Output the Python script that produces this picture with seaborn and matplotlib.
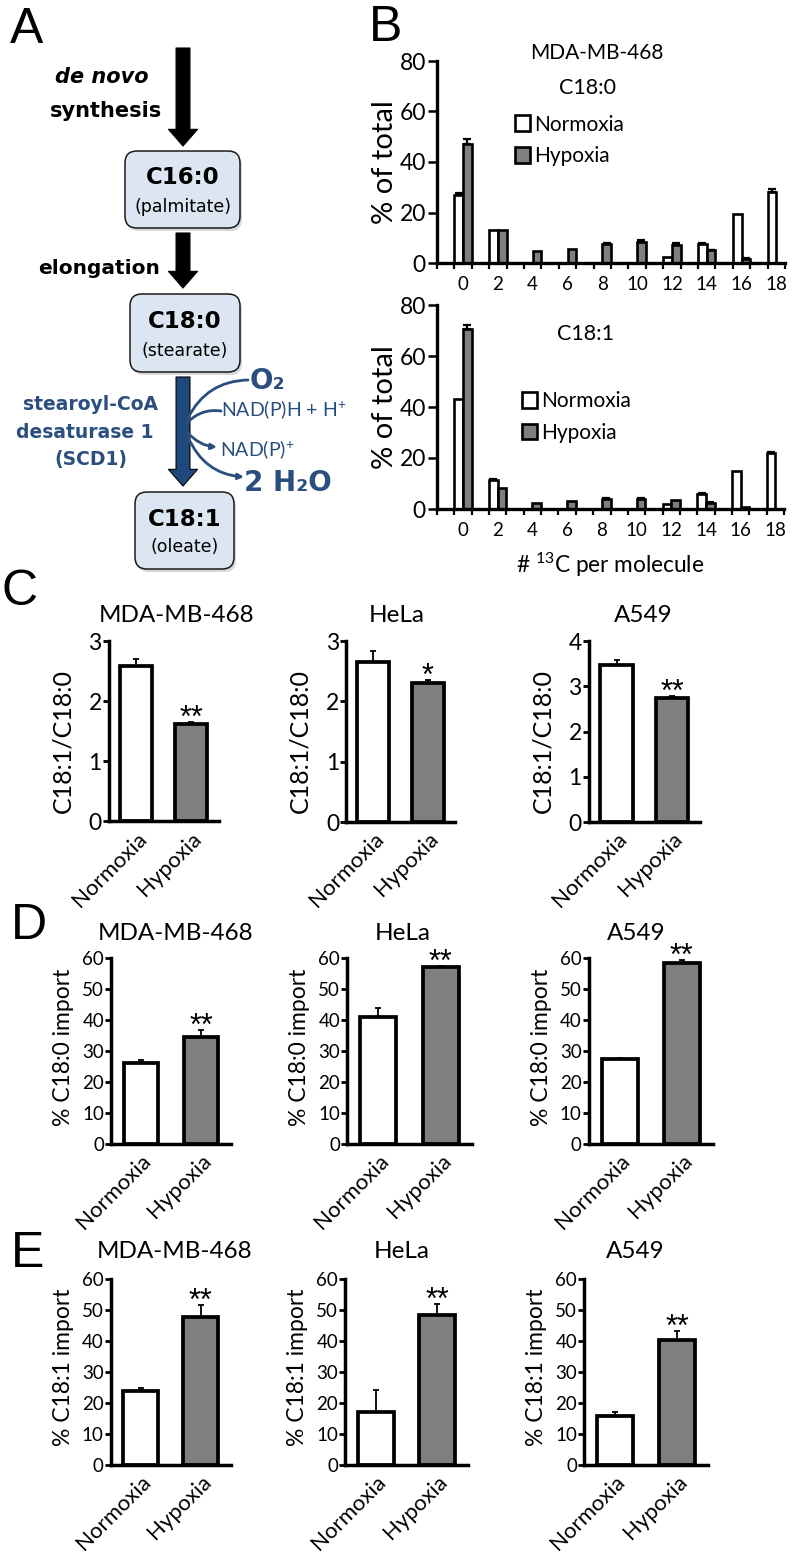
# plot.py
# Multi-panel figure: fatty acid pathway (A), labelling histograms (B), bar panels (C-E)

import pandas as pd
import matplotlib
matplotlib.use('Agg')
import matplotlib.pyplot as plt
from matplotlib.patches import FancyBboxPatch, FancyArrowPatch
import seaborn as sns

FIG_W, FIG_H = 794, 1554

# panel B data
carbons = ['0', '2', '4', '6', '8', '10', '12', '14', '16', '18']
c180_normoxia = [27, 13, 0, 0, 0, 0, 2.5, 7.5, 19.5, 28]
c180_normoxia_err = [0.8, 0, 0, 0, 0, 0, 0, 0.3, 0, 1.5]
c180_hypoxia = [47, 13, 4.8, 5.5, 7.5, 8.5, 7, 5, 1.5, 0]
c180_hypoxia_err = [2, 0, 0, 0, 0.4, 0.5, 0.8, 0.3, 0.3, 0]
c181_normoxia = [43, 11.5, 0, 0, 0, 0, 2, 6, 15, 22]
c181_normoxia_err = [0, 0.2, 0, 0, 0, 0, 0, 0.2, 0, 0.3]
c181_hypoxia = [70.5, 8.2, 2.5, 3, 4, 4, 3.5, 2.5, 0.8, 0]
c181_hypoxia_err = [1.7, 0, 0, 0, 0.2, 0.2, 0, 0.2, 0, 0]

# panels C-E data
conditions = ['Normoxia', 'Hypoxia']
cell_lines = ['MDA-MB-468', 'HeLa', 'A549']
ratio_means = [[2.58, 1.62], [2.66, 2.30], [3.47, 2.74]]
ratio_errs = [[0.12, 0.03], [0.17, 0.05], [0.12, 0.04]]
ratio_stars = ['**', '*', '**']
c180_import_means = [[26, 34.5], [41, 57], [27.5, 58.5]]
c180_import_errs = [[1.0, 2.3], [3.0, 0.3], [0.2, 0.8]]
c181_import_means = [[23.8, 47.8], [17, 48.3], [15.8, 40.3]]
c181_import_errs = [[1.2, 3.7], [7.3, 3.5], [1.2, 2.8]]

WHITE = '#ffffff'
GRAY = '#7f7f7f'
BLUE = '#2a4f7f'
ARROW_BLUE = '#1f497d'
BOX_BLUE = '#dce6f2'

sns.set_theme(style='white', rc={'text.color': 'black', 'axes.labelcolor': 'black',
                                 'xtick.color': 'black', 'ytick.color': 'black'})
plt.rcParams['font.family'] = ['Lato', 'DejaVu Sans']
plt.rcParams['mathtext.default'] = 'regular'


def px_axes(fig, left, right, top, bottom):
    """Axes placed by pixel edges of the figure."""
    return fig.add_axes([left / FIG_W, 1 - bottom / FIG_H,
                         (right - left) / FIG_W, (bottom - top) / FIG_H])


def add_errors(ax, means, errs, lw=1.3, cap=2.2):
    """Upper-only error bars on the bars seaborn has drawn."""
    patches = [p for c in ax.containers for p in c]
    for p, m, e in zip(patches, means, errs):
        if e > 0:
            ax.errorbar(p.get_x() + p.get_width() / 2, m, yerr=[[0], [e]],
                        color='black', elinewidth=lw, capsize=cap,
                        capthick=lw, zorder=1)


def style_axis(ax, lw=2.2):
    sns.despine(ax=ax)
    for side in ['left', 'bottom']:
        ax.spines[side].set_linewidth(lw)
        ax.spines[side].set_color('black')


def histogram_panel(fig, box, normoxia, normoxia_err, hypoxia, hypoxia_err,
                    legend_xy, show_xlabel):
    ax = px_axes(fig, *box)
    df = pd.DataFrame({
        'carbons': carbons * 2,
        'value': normoxia + hypoxia,
        'condition': ['Normoxia'] * len(carbons) + ['Hypoxia'] * len(carbons),
    })
    sns.barplot(data=df, x='carbons', y='value', hue='condition',
                hue_order=conditions, palette=[WHITE, GRAY], order=carbons,
                width=0.5, gap=0, saturation=1, edgecolor='black',
                linewidth=1.9, errorbar=None, ax=ax, zorder=2)
    add_errors(ax, normoxia + hypoxia, normoxia_err + hypoxia_err, lw=1.6, cap=2.6)
    style_axis(ax, 2.4)
    ax.set_xlim(-0.75, 9.25)
    ax.set_ylim(0, 80)
    ax.set_yticks([0, 20, 40, 60, 80])
    ax.set_xticks(range(len(carbons)))
    ax.set_xticklabels(carbons)
    ax.set_xticks([-0.75 + 0.5 * i for i in range(21)], minor=True)
    ax.tick_params(axis='x', which='major', length=0, pad=9, labelsize=13.5, bottom=True)
    ax.tick_params(axis='x', which='minor', length=4.5, width=1.6, bottom=True)
    ax.tick_params(axis='y', length=6.5, width=1.8, pad=1.5, labelsize=16.5, left=True)
    ax.set_ylabel('% of total', fontsize=21, labelpad=1)
    ax.set_xlabel('# $^{13}$C per molecule' if show_xlabel else '', fontsize=16.3, labelpad=8.5)
    handles, labels = ax.get_legend_handles_labels()
    ax.legend(handles, labels, loc='upper left', frameon=False, fontsize=15,
              bbox_to_anchor=legend_xy, handlelength=0.72, handleheight=0.8,
              handletextpad=0.2, labelspacing=0.55, borderpad=0, borderaxespad=0)
    return ax


def bar_panel(fig, box, title, title_xy, means, errs, stars, yticks, ylabel,
              tick_size, label_size, label_y, label_pad):
    ax = px_axes(fig, *box)
    df = pd.DataFrame({'condition': conditions, 'value': means})
    sns.barplot(data=df, x='condition', y='value', hue='condition',
                palette=[WHITE, GRAY], saturation=1, width=0.58, dodge=False,
                edgecolor='black', linewidth=2.7, errorbar=None, legend=False,
                ax=ax, zorder=2)
    add_errors(ax, means, errs)
    style_axis(ax, 2.5)
    ax.set_xlim(-0.5, 1.5)
    ax.set_ylim(yticks[0], yticks[-1])
    ax.set_yticks(yticks)
    ax.tick_params(axis='y', length=4, width=2, pad=1, labelsize=tick_size, left=True)
    ax.tick_params(axis='x', length=0, pad=5, labelsize=16)
    ax.set_xticks([0, 1])
    ax.set_xticklabels(conditions, rotation=45, ha='right', rotation_mode='anchor')
    ax.set_xlabel('')
    ax.set_ylabel(ylabel, fontsize=label_size, labelpad=label_pad, y=label_y)
    # asterisk sits high in its em box, so the baseline goes below the error cap
    ax.annotate(stars, (1, means[1] + errs[1]), xytext=(0, -3.5), textcoords='offset points',
                ha='center', va='baseline', fontsize=22, family='Liberation Sans',
                annotation_clip=False)
    fig.text(title_xy[0] / FIG_W, 1 - title_xy[1] / FIG_H, title,
             ha='center', va='center', fontsize=17.5)
    return ax


fig = plt.figure(figsize=(FIG_W / 100, FIG_H / 100), dpi=100, facecolor='white')

# ---- panel B ----
histogram_panel(fig, (437, 785, 61, 263), c180_normoxia, c180_normoxia_err,
                c180_hypoxia, c180_hypoxia_err, (0.225, 0.735), False)
histogram_panel(fig, (437, 784, 305, 509), c181_normoxia, c181_normoxia_err,
                c181_hypoxia, c181_hypoxia_err, (0.245, 0.577), True)

# ---- panels C-E ----
c_boxes = [(108.7, 219, 641, 821.5), (346, 455, 641, 822), (588.7, 700, 641, 822)]
d_boxes = [(111, 231, 958, 1144), (347, 472, 958, 1144), (588.7, 713, 958, 1144)]
e_boxes = [(110.7, 230.7, 1279, 1465), (345, 468, 1279, 1465), (584, 708, 1279, 1465)]
c_titles = [(177, 615), (397, 615), (643, 615)]
d_titles = [(176, 934), (403, 934), (636, 934)]
e_titles = [(175, 1252), (402, 1252), (635, 1252)]
c_ticks = [[0, 1, 2, 3], [0, 1, 2, 3], [0, 1, 2, 3, 4]]
import_ticks = [0, 10, 20, 30, 40, 50, 60]

for i, name in enumerate(cell_lines):
    bar_panel(fig, c_boxes[i], name, c_titles[i], ratio_means[i], ratio_errs[i],
              ratio_stars[i], c_ticks[i], 'C18:1/C18:0', 16.5, 18, 0.445, 10.5)
    bar_panel(fig, d_boxes[i], name, d_titles[i], c180_import_means[i], c180_import_errs[i],
              '**', import_ticks, '% C18:0 import', 13.5, 16.5, 0.52, 6)
    bar_panel(fig, e_boxes[i], name, e_titles[i], c181_import_means[i], c181_import_errs[i],
              '**', import_ticks, '% C18:1 import', 13.5, 16.5, 0.525, 6)

# ---- overlay in pixel coordinates: panel letters, titles and pathway diagram ----
ov = fig.add_axes([0, 0, 1, 1], facecolor='none')
ov.set_xlim(0, FIG_W)
ov.set_ylim(FIG_H, 0)
ov.axis('off')

for letter, x, y in [('A', 10, 30), ('B', 369, 28), ('C', 1, 592),
                     ('D', 11, 926), ('E', 11, 1254)]:
    ov.text(x, y, letter, fontsize=36, family='Liberation Sans', va='center', ha='left')

ov.text(597, 53, 'MDA-MB-468', fontsize=15, ha='center', va='center')
ov.text(588, 88, 'C18:0', fontsize=15.5, ha='center', va='center')
ov.text(586, 334, 'C18:1', fontsize=15.5, ha='center', va='center')


def block_arrow(x, y0, y1, face, edge):
    ov.add_patch(FancyArrowPatch((x, y0), (x, y1), mutation_scale=1,
                                 arrowstyle='simple,head_width=21,head_length=12,tail_width=10',
                                 shrinkA=0, shrinkB=0, facecolor=face, edgecolor=edge,
                                 linewidth=0.8, zorder=3))


def fatty_box(x0, x1, y0, y1, name, sub, ty, sy):
    ov.add_patch(FancyBboxPatch((x0 + 2, y0 + 3), x1 - x0, y1 - y0,
                                boxstyle='round,pad=0,rounding_size=12',
                                facecolor='#bbbbbb', edgecolor='none', alpha=0.6))
    ov.add_patch(FancyBboxPatch((x0, y0), x1 - x0, y1 - y0,
                                boxstyle='round,pad=0,rounding_size=12',
                                facecolor=BOX_BLUE, edgecolor='#1a1a1a', linewidth=1.1))
    cx = (x0 + x1) / 2
    ov.text(cx, ty, name, fontsize=16.5, fontweight='bold', family='DejaVu Sans',
            ha='center', va='center')
    ov.text(cx, sy, sub, fontsize=12.5, family='DejaVu Sans', ha='center', va='center')


block_arrow(183, 48, 146, 'black', 'black')
block_arrow(183, 233, 288, 'black', 'black')
block_arrow(183, 377, 486, ARROW_BLUE, 'black')
fatty_box(125, 240, 151, 228, 'C16:0', '(palmitate)', 177, 207)
fatty_box(130, 240, 294, 372, 'C18:0', '(stearate)', 322, 351)
fatty_box(135, 234, 492, 569, 'C18:1', '(oleate)', 519, 547)

ov.text(102, 77, 'de novo', fontsize=15, fontweight='bold', style='italic',
        family='DejaVu Sans', ha='center', va='center')
ov.text(106, 111, 'synthesis', fontsize=15, fontweight='bold', family='DejaVu Sans',
        ha='center', va='center')
ov.text(99, 268, 'elongation', fontsize=14.5, fontweight='bold', family='DejaVu Sans',
        ha='center', va='center')
for txt, x, y in [('stearoyl-CoA', 90, 404), ('desaturase 1', 85, 432), ('(SCD1)', 91, 460)]:
    ov.text(x, y, txt, fontsize=13.5, fontweight='bold', color=BLUE, family='DejaVu Sans',
            ha='center', va='center')

ov.text(267, 381, 'O\u2082', fontsize=20, fontweight='bold', color=BLUE, ha='center',
        va='center', family='DejaVu Sans')
ov.text(284, 410, 'NAD(P)H + H$^{+}$', fontsize=14, color=BLUE, ha='center', va='center')
ov.text(257, 450, 'NAD(P)$^{+}$', fontsize=14, color=BLUE, ha='center', va='center')
ov.text(288, 483, '2 H\u2082O', fontsize=20, fontweight='bold', color=BLUE, ha='center',
        va='center', family='DejaVu Sans')

for start, end, rad, head in [((248, 380), (188, 418), 0.3, '-'),
                              ((221, 411), (188, 422), 0.25, '-'),
                              ((188, 433), (217, 447), 0.2, '-|>'),
                              ((188, 437), (244, 477), 0.3, '-|>')]:
    ov.add_patch(FancyArrowPatch(start, end, connectionstyle=f'arc3,rad={rad}',
                                 arrowstyle=head, mutation_scale=8, color=BLUE,
                                 linewidth=2, shrinkA=0, shrinkB=0, zorder=4))

fig.savefig('out.png', dpi=100)
